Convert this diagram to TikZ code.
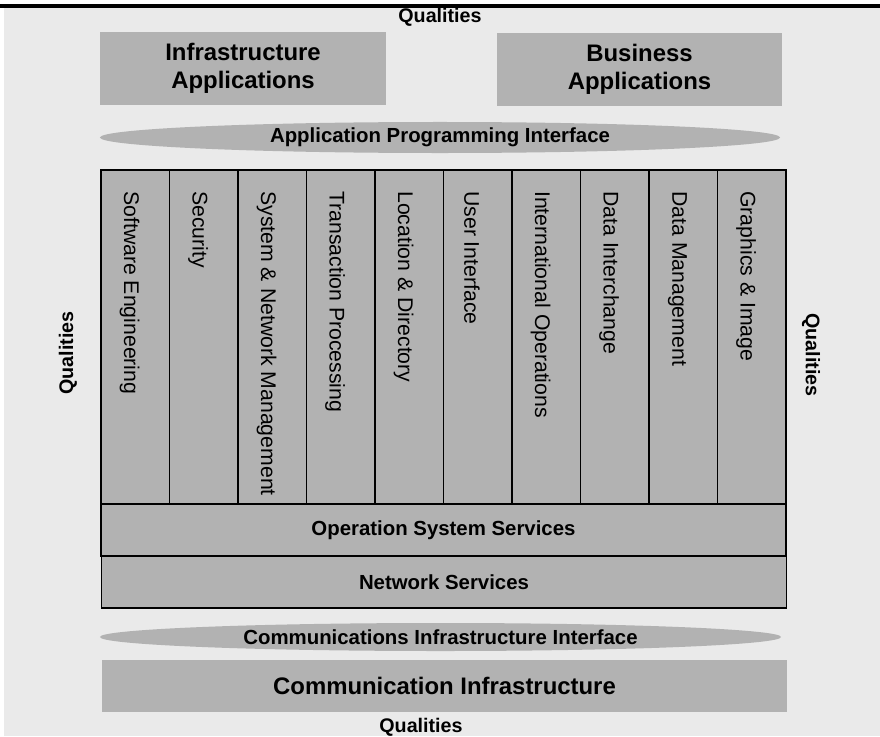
\documentclass[tikz,border=0pt]{standalone}
\usepackage{fontspec}
\setmainfont{Liberation Sans}
\usetikzlibrary{shapes.geometric}

\tikzset{
  bigbox/.style={fill=boxgray, inner sep=0pt, align=center,
    font=\fontsize{17}{20}\selectfont\bfseries},
  band/.style={draw=black, line width=1.2pt, fill=boxgray, inner sep=0pt,
    minimum width=17.125cm, minimum height=1.3cm,
    font=\fontsize{14.5}{17}\selectfont\bfseries},
  lens/.style={ellipse, fill=boxgray, inner sep=0pt,
    font=\fontsize{14.5}{17}\selectfont\bfseries},
  column/.style={draw=black, line width=1.2pt, fill=boxgray, inner sep=0pt,
    minimum width=1.7125cm, minimum height=8.35cm},
  coltext/.style={rotate=-90, anchor=west, inner sep=0pt,
    font=\fontsize{15.1}{18}\selectfont},
  quality/.style={inner sep=0pt, font=\fontsize{14}{17}\selectfont\bfseries}
}

\begin{document}
\begin{tikzpicture}[x=0.025cm, y=-0.025cm]
  % Define colors
  \definecolor{paper}{RGB}{234,234,234}
  \definecolor{boxgray}{RGB}{178,178,178}

  % Page and top rule
  \useasboundingbox (0,0) rectangle (880,736);
  \fill[white] (0,0) rectangle (880,736);
  \fill[paper] (4,8) rectangle (880,736);
  \fill[black] (0,4.5) rectangle (880,8.5);

  % Qualities around the frame
  \node[quality] (qtop) at (440,17) {Qualities};
  \node[quality] (qbottom) at (421,727) {Qualities};
  \node[quality, rotate=90] (qleft) at (68,353) {Qualities};
  \node[quality, rotate=-90] (qright) at (811,355) {Qualities};

  % Applications on top
  \node[bigbox, minimum width=7.15cm, minimum height=1.825cm] (infra) at (243,68.5) {Infrastructure\\Applications};
  \node[bigbox, minimum width=7.125cm, minimum height=1.825cm] (business) at (639.5,69.5) {Business\\Applications};

  % API
  \node[lens, minimum width=17cm, minimum height=0.775cm] (api) at (440,137.5) {Application Programming Interface};

  % Service columns
  \node[column] (c1) at (135.25,337) {};
  \node[column] (c2) at (203.75,337) {};
  \node[column] (c3) at (272.25,337) {};
  \node[column] (c4) at (340.75,337) {};
  \node[column] (c5) at (409.25,337) {};
  \node[column] (c6) at (477.75,337) {};
  \node[column] (c7) at (546.25,337) {};
  \node[column] (c8) at (614.75,337) {};
  \node[column] (c9) at (683.25,337) {};
  \node[column] (c10) at (751.75,337) {};

  \node[coltext] (t1) at (129.5,191) {Software Engineering};
  \node[coltext] (t2) at (198,191) {Security};
  \node[coltext] (t3) at (266.5,191) {System \& Network Management};
  \node[coltext] (t4) at (335,191) {Transaction Processing};
  \node[coltext] (t5) at (403.5,191) {Location \& Directory};
  \node[coltext] (t6) at (472,191) {User Interface};
  \node[coltext] (t7) at (540.5,191) {International Operations};
  \node[coltext] (t8) at (609,191) {Data Interchange};
  \node[coltext] (t9) at (677.5,191) {Data Management};
  \node[coltext] (t10) at (746,191) {Graphics \& Image};

  % Platform services
  \node[band] (os) at (443.5,530) {Operation System Services};
  \node[band] (net) at (444,582) {Network Services};

  % Communications
  \node[lens, minimum width=17.025cm, minimum height=0.7cm] (cii) at (440.5,637) {Communications Infrastructure Interface};
  \node[bigbox, minimum width=17.125cm, minimum height=1.3cm] (comm) at (444.5,686) {Communication Infrastructure};
\end{tikzpicture}
\end{document}
